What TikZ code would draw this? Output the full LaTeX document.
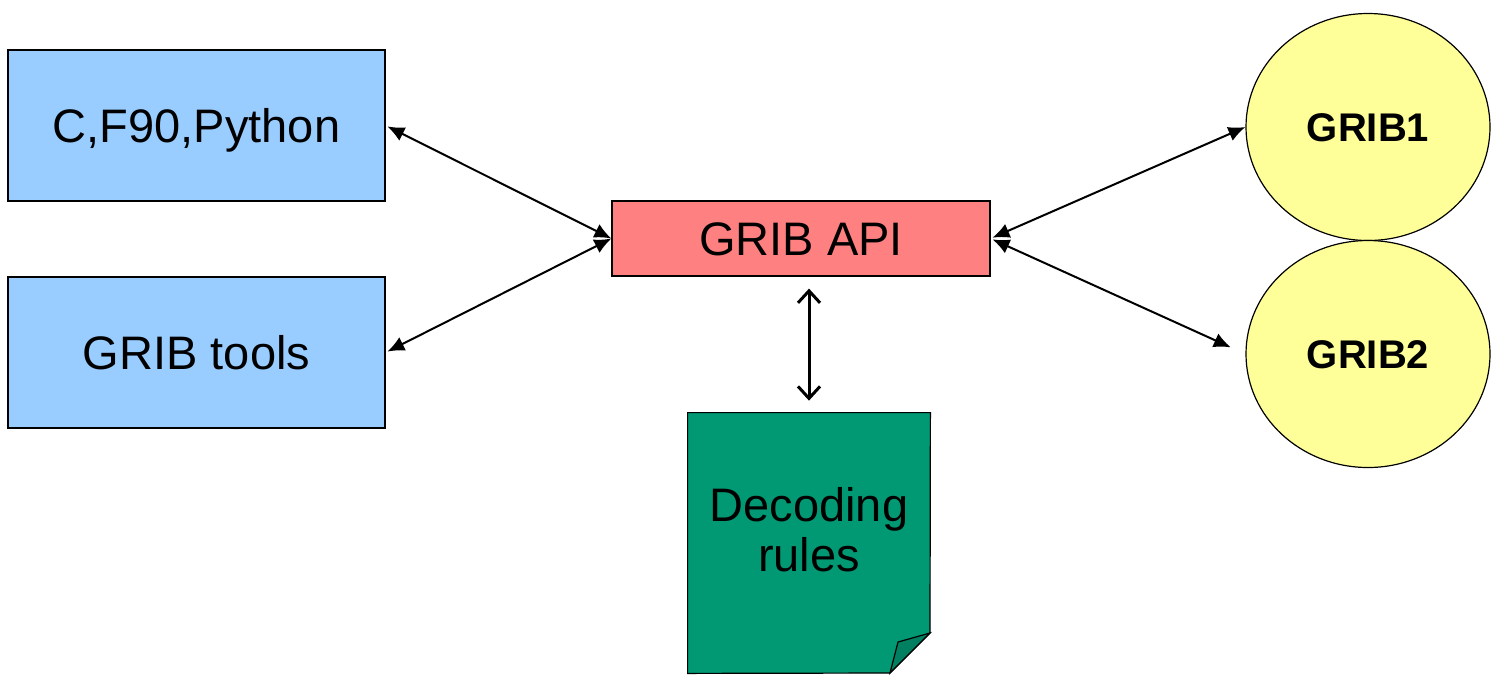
\documentclass[tikz,border=0pt]{standalone}
\usepackage{fontspec}
\setmainfont{Liberation Sans}
\usetikzlibrary{shapes.geometric,arrows.meta}
\definecolor{langblue}{RGB}{153,204,255}
\definecolor{apired}{RGB}{255,128,128}
\definecolor{gribyellow}{RGB}{255,255,153}
\definecolor{docgreen}{RGB}{0,153,115}
\definecolor{foldgreen}{RGB}{0,128,96}
\tikzset{
  langbox/.style={draw, line width=0.6pt, fill=langblue, minimum width=188.5pt, minimum height=75.5pt, inner sep=0pt, text height=16.8pt, text depth=0pt, font=\fontsize{23.5}{25}\selectfont},
  apibox/.style={draw, line width=0.6pt, fill=apired, minimum width=189pt, minimum height=37.5pt, inner sep=0pt, text height=16.8pt, text depth=0pt, font=\fontsize{23.5}{25}\selectfont},
  gribcircle/.style={ellipse, draw, line width=0.6pt, fill=gribyellow, minimum width=122pt, minimum height=113.5pt, inner sep=0pt, text height=14.3pt, text depth=0pt, font=\fontsize{20}{22}\selectfont\bfseries},
  link/.style={line width=1pt, {Latex[length=8.5pt,width=7.5pt]}-{Latex[length=8.5pt,width=7.5pt]}},
  rulelink/.style={line width=1.5pt, {Straight Barb[length=6pt,width=11pt]}-{Straight Barb[length=6pt,width=11pt]}}
}
\begin{document}
\begin{tikzpicture}[x=0.5pt, y=-0.5pt]
        \useasboundingbox (0, 0) rectangle (1494, 677);
        % boxes on the left
        \node[langbox] (lang) at (196.5, 125.5) {C,F90,Python};
        \node[langbox] (tools) at (196.5, 352.5) {GRIB tools};
        \node[apibox] (api) at (801, 238.5) {GRIB API};
        % editions
        \node[gribcircle] (gribone) at (1368, 127) {GRIB1};
        \node[gribcircle] (gribtwo) at (1368, 354) {GRIB2};
        % decoding rules sheet
        \node[minimum width=121pt, minimum height=130pt, inner sep=0pt] (doc) at (809, 543) {};
        \draw[line width=0.6pt, fill=docgreen] (doc.north west) -- (doc.north east) -- (930, 633) -- (890, 673) -- (doc.south west) -- cycle;
        \draw[line width=0.6pt, fill=foldgreen] (930, 633) -- (898, 642) -- (890, 673) -- cycle;
        \node[align=center, font=\fontsize{23.5}{25}\selectfont, inner sep=0pt] (doclabel) at (809, 530) {Decoding\\rules};
        % connectors
        \draw[link, shorten <=1pt] (lang.east) -- (api.west);
        \draw[link, shorten <=1pt] (tools.east) -- (api.west);
        \draw[link, shorten <=1pt] (api.east) -- (gribone.west);
        \draw[link, shorten <=1pt, shorten >=8pt] (api.east) -- (gribtwo.west);
        \draw[rulelink, shorten <=6pt, shorten >=6pt] (api.south -| doclabel) -- (doc.north -| doclabel);
\end{tikzpicture}
\end{document}
